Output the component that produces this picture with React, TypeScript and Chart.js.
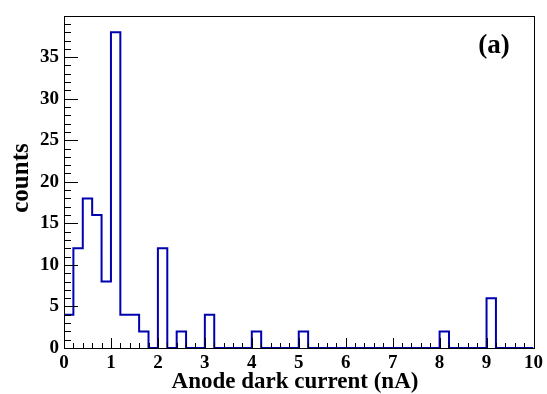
import React, { useEffect, useRef } from "react";
import { Chart, registerables } from "chart.js";

Chart.register(...registerables);

// Histogram: 50 bins of width 0.2 from 0 to 10
const binWidth = 0.2;
const binLowEdges: number[] = Array.from({ length: 50 }, (_, i) => Math.round(i * binWidth * 10) / 10);
const counts: number[] = [
  4, 12, 18, 16, 8, 38, 4, 4, 2, 0,
  12, 0, 2, 0, 0, 4, 0, 0, 0, 0,
  2, 0, 0, 0, 0, 2, 0, 0, 0, 0,
  0, 0, 0, 0, 0, 0, 0, 0, 0, 0,
  2, 0, 0, 0, 0, 6, 0, 0, 0, 0,
];
const xTicks: number[] = [0, 1, 2, 3, 4, 5, 6, 7, 8, 9, 10];
const yTicks: number[] = [0, 5, 10, 15, 20, 25, 30, 35];
const xTitle = "Anode dark current (nA)";
const yTitle = "counts";
const panelLabel = "(a)";

const FONT = "'Liberation Serif', 'Times New Roman', serif";

export default function App() {
  const ref = useRef<HTMLCanvasElement>(null);
  useEffect(() => {
    document.body.style.margin = "0";
    const canvas = ref.current!;
    const pts = binLowEdges.map((x, i) => ({ x, y: counts[i] }));
    pts.push({ x: 10, y: counts[counts.length - 1] });

    const framePlugin = {
      id: "rootFrame",
      afterDraw(chart: any) {
        const ctx = chart.ctx;
        const { left, right, top, bottom } = chart.chartArea;
        const xs = chart.scales.x;
        const ys = chart.scales.y;
        ctx.save();
        ctx.strokeStyle = "#000";
        ctx.lineWidth = 1;
        for (let i = 0; i <= 50; i++) {
          const v = i * binWidth;
          const px = Math.round(xs.getPixelForValue(v)) + 0.5;
          const len = i % 5 === 0 ? 10 : 5;
          ctx.beginPath();
          ctx.moveTo(px, bottom);
          ctx.lineTo(px, bottom - len);
          ctx.stroke();
        }
        for (let v = 0; v <= 39; v++) {
          const py = Math.round(ys.getPixelForValue(v)) + 0.5;
          const len = v % 5 === 0 ? 14 : 7;
          ctx.beginPath();
          ctx.moveTo(left, py);
          ctx.lineTo(left + len, py);
          ctx.stroke();
        }
        ctx.strokeRect(Math.round(left) + 0.5, Math.round(top) + 0.5, Math.round(right - left), Math.round(bottom - top));
        ctx.fillStyle = "#000";
        ctx.textAlign = "center";
        ctx.textBaseline = "alphabetic";
        // x title
        ctx.font = `bold 23px ${FONT}`;
        ctx.fillText(xTitle, 295, 388);
        // y title
        ctx.save();
        ctx.translate(28, 178);
        ctx.rotate(-Math.PI / 2);
        ctx.font = `bold 25px ${FONT}`;
        ctx.fillText(yTitle, 0, 0);
        ctx.restore();
        // panel label
        ctx.font = `bold 27px ${FONT}`;
        ctx.fillText(panelLabel, 494, 53);
        ctx.restore();
      },
    };

    const chart = new Chart(canvas, {
      type: "line",
      data: {
        datasets: [
          {
            data: pts,
            stepped: "before",
            borderColor: "rgb(0,0,175)",
            borderWidth: 2,
            pointRadius: 0,
            fill: false,
          },
        ],
      },
      options: {
        animation: false,
        responsive: false,
        maintainAspectRatio: false,
        layout: { padding: { top: 8, right: 10, left: 0, bottom: 0 } },
        plugins: { legend: { display: false }, tooltip: { enabled: false } },
        scales: {
          x: {
            type: "linear",
            min: 0,
            max: 10,
            grid: { display: false, drawTicks: false, tickLength: 0 },
            border: { display: false },
            afterBuildTicks: (s: any) => {
              s.ticks = xTicks.map((v) => ({ value: v }));
            },
            afterFit: (s: any) => {
              s.height = 46;
            },
            ticks: {
              autoSkip: false,
              maxRotation: 0,
              padding: 4,
              color: "#000",
              font: { family: FONT, size: 19, weight: "bold" },
            },
          },
          y: {
            type: "linear",
            min: 0,
            max: 39.9,
            grid: { display: false, drawTicks: false, tickLength: 0 },
            border: { display: false },
            afterBuildTicks: (s: any) => {
              s.ticks = yTicks.map((v) => ({ value: v }));
            },
            afterFit: (s: any) => {
              s.width = 64;
            },
            ticks: {
              autoSkip: false,
              padding: 5,
              color: "#000",
              font: { family: FONT, size: 19, weight: "bold" },
            },
          },
        },
      },
      plugins: [framePlugin],
    } as any);
    return () => chart.destroy();
  }, []);
  return (
    <div style={{ width: 547, height: 394, background: "#fff" }}>
      <canvas ref={ref} width={547} height={394} style={{ display: "block" }} />
    </div>
  );
}
